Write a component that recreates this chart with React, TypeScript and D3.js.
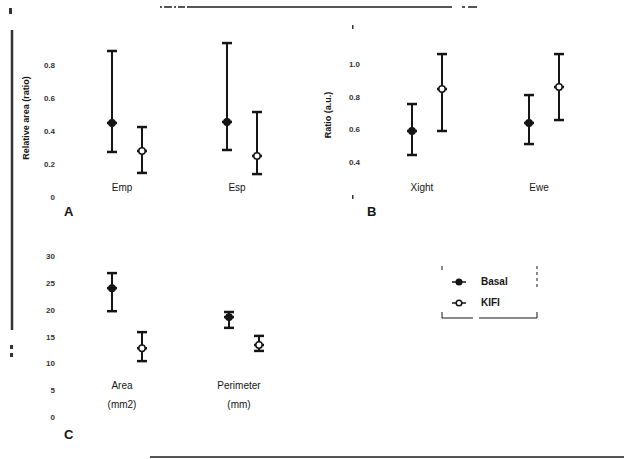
import React from "react";
import * as d3 from "d3";

// Panel A
const catsA = ["Emp", "Esp"];
const basalA = [{ m: 0.455, lo: 0.279, hi: 0.891 }, { m: 0.461, lo: 0.291, hi: 0.939 }];
const kifiA = [{ m: 0.285, lo: 0.152, hi: 0.43 }, { m: 0.255, lo: 0.145, hi: 0.521 }];
const ticksA = [0, 0.2, 0.4, 0.6, 0.8];
const tickLabelsA = ["0", "0.2", "0.4", "0.6", "0.8"];

// Panel B
const catsB = ["Xight", "Ewe"];
const basalB = [{ m: 0.596, lo: 0.449, hi: 0.761 }, { m: 0.645, lo: 0.516, hi: 0.816 }];
const kifiB = [{ m: 0.853, lo: 0.596, hi: 1.067 }, { m: 0.865, lo: 0.663, hi: 1.067 }];
const ticksB = [0.4, 0.6, 0.8, 1.0];
const tickLabelsB = ["0.4", "0.6", "0.8", "1.0"];

// Panel C
const catsC = [["Area", "(mm2)"], ["Perimeter", "(mm)"]];
const basalC = [{ m: 24.2, lo: 19.9, hi: 27.0 }, { m: 18.8, lo: 16.8, hi: 19.75 }];
const kifiC = [{ m: 13.0, lo: 10.6, hi: 16.0 }, { m: 13.6, lo: 12.5, hi: 15.3 }];
const ticksC = [0, 5, 10, 15, 20, 25, 30];
const tickLabelsC = ["0", "5", "10", "15", "20", "25", "30"];

const seriesNames = ["Basal", "KIFI"];

const FONT = "Liberation Sans, Arial, sans-serif";
const INK = "#151515";

type Pt = { m: number; lo: number; hi: number };

function ErrPoint({ x, y, d, open }: { x: number; y: d3.ScaleLinear<number, number>; d: Pt; open: boolean }) {
  const cap = 5;
  return (
    <g>
      <line x1={x} x2={x} y1={y(d.lo)} y2={y(d.hi)} stroke={INK} strokeWidth={2} />
      <line x1={x - cap} x2={x + cap} y1={y(d.lo)} y2={y(d.lo)} stroke={INK} strokeWidth={2.5} />
      <line x1={x - cap} x2={x + cap} y1={y(d.hi)} y2={y(d.hi)} stroke={INK} strokeWidth={2.5} />
      <line x1={x - 5} x2={x + 5} y1={y(d.m)} y2={y(d.m)} stroke={INK} strokeWidth={2.5} />
      <circle cx={x} cy={y(d.m)} r={3.2} fill={open ? "#fff" : INK} stroke={INK} strokeWidth={1.5} />
    </g>
  );
}

function Panel({
  cats, basal, kifi, y, xRange, ticks, tickLabels, tickX, catY, letter, letterPos, ylabel, ylabelPos,
}: any) {
  const x = d3.scalePoint<number>().domain(cats.map((_: any, i: number) => i)).range(xRange);
  const off = 30;
  return (
    <g>
      {ticks.map((t: number, i: number) => (
        <text key={i} x={tickX} y={y(t)} fontSize={8} fontFamily={FONT} fontWeight="bold" fill="#333"
          textAnchor="end" dominantBaseline="middle">{tickLabels[i]}</text>
      ))}
      {ylabel && (
        <text transform={`translate(${ylabelPos[0]},${ylabelPos[1]}) rotate(-90)`} fontSize={9} fontFamily={FONT}
          fontWeight="bold" fill={INK} textAnchor="middle" dominantBaseline="middle">{ylabel}</text>
      )}
      {cats.map((c: any, i: number) => {
        const cx = (x(i) as number) + off / 2;
        const lines = Array.isArray(c) ? c : [c];
        return (
          <g key={i}>
            <ErrPoint x={x(i) as number} y={y} d={basal[i]} open={false} />
            <ErrPoint x={(x(i) as number) + off} y={y} d={kifi[i]} open={true} />
            {lines.map((l: string, j: number) => (
              <text key={j} x={cx - 5} y={catY + j * 19} fontSize={10} fontFamily={FONT} fill={INK}
                textAnchor="middle" dominantBaseline="middle">{l}</text>
            ))}
          </g>
        );
      })}
      <text x={letterPos[0]} y={letterPos[1]} fontSize={13} fontFamily={FONT} fontWeight="bold" fill={INK}
        dominantBaseline="middle">{letter}</text>
    </g>
  );
}

export default function App() {
  const yA = d3.scaleLinear().domain([0, 0.8]).range([198, 66]);
  const yB = d3.scaleLinear().domain([0.4, 1.0]).range([163, 65]);
  const yC = d3.scaleLinear().domain([0, 30]).range([418, 257]);
  return (
    <svg width={624} height={459} style={{ position: "absolute", left: 0, top: 0, background: "#fff" }}>
      <rect width={624} height={459} fill="#fff" />
      {/* frame fragments */}
      <line x1={187} x2={452} y1={7} y2={7} stroke="#555" strokeWidth={2} />
      <line x1={160} x2={185} y1={7} y2={7} stroke="#555" strokeWidth={2} strokeDasharray="2 2 8 2" />
      <line x1={462} x2={477} y1={7} y2={7} stroke="#555" strokeWidth={2} strokeDasharray="3 3 9 0" />
      <rect x={9} y={8} width={3} height={6} fill="#333" />
      <line x1={12} x2={12} y1={30} y2={330} stroke="#333" strokeWidth={2.5} />
      <rect x={10} y={345} width={3} height={4} fill="#333" />
      <rect x={10} y={353} width={3} height={4} fill="#333" />
      <line x1={150} x2={624} y1={457} y2={457} stroke="#555" strokeWidth={2} />
      <rect x={352} y={25} width={1.5} height={4} fill="#333" />
      <rect x={352} y={195} width={1.5} height={4} fill="#333" />
      <Panel cats={catsA} basal={basalA} kifi={kifiA} y={yA} xRange={[112, 227]} ticks={ticksA}
        tickLabels={tickLabelsA} tickX={55} catY={188} letter="A" letterPos={[64, 213]}
        ylabel="Relative area (ratio)" ylabelPos={[27, 118]} />
      <Panel cats={catsB} basal={basalB} kifi={kifiB} y={yB} xRange={[412, 529]} ticks={ticksB}
        tickLabels={tickLabelsB} tickX={360} catY={188} letter="B" letterPos={[367, 213]}
        ylabel="Ratio (a.u.)" ylabelPos={[329, 115]} />
      <Panel cats={catsC} basal={basalC} kifi={kifiC} y={yC} xRange={[112, 229]} ticks={ticksC}
        tickLabels={tickLabelsC} tickX={55} catY={386} letter="C" letterPos={[64, 436]} />
      {/* legend */}
      <g>
        <polyline points="442,312 442,318 473,318" fill="none" stroke={INK} strokeWidth={1} />
        <polyline points="479,318 537,318 537,312" fill="none" stroke={INK} strokeWidth={1} />
        <line x1={537} x2={537} y1={266} y2={288} stroke={INK} strokeWidth={1} strokeDasharray="3 3" />
        <line x1={442} x2={442} y1={266} y2={270} stroke={INK} strokeWidth={1} />
        {seriesNames.map((s, i) => {
          const ly = 282 + i * 21;
          return (
            <g key={s}>
              <line x1={452} x2={466} y1={ly} y2={ly} stroke={INK} strokeWidth={1.5} />
              <circle cx={459} cy={ly} r={2.8} fill={i === 0 ? INK : "#fff"} stroke={INK} strokeWidth={1.5} />
              <text x={481} y={ly} fontSize={10} fontFamily={FONT} fontWeight="bold" fill={INK}
                dominantBaseline="middle">{s}</text>
            </g>
          );
        })}
      </g>
    </svg>
  );
}
